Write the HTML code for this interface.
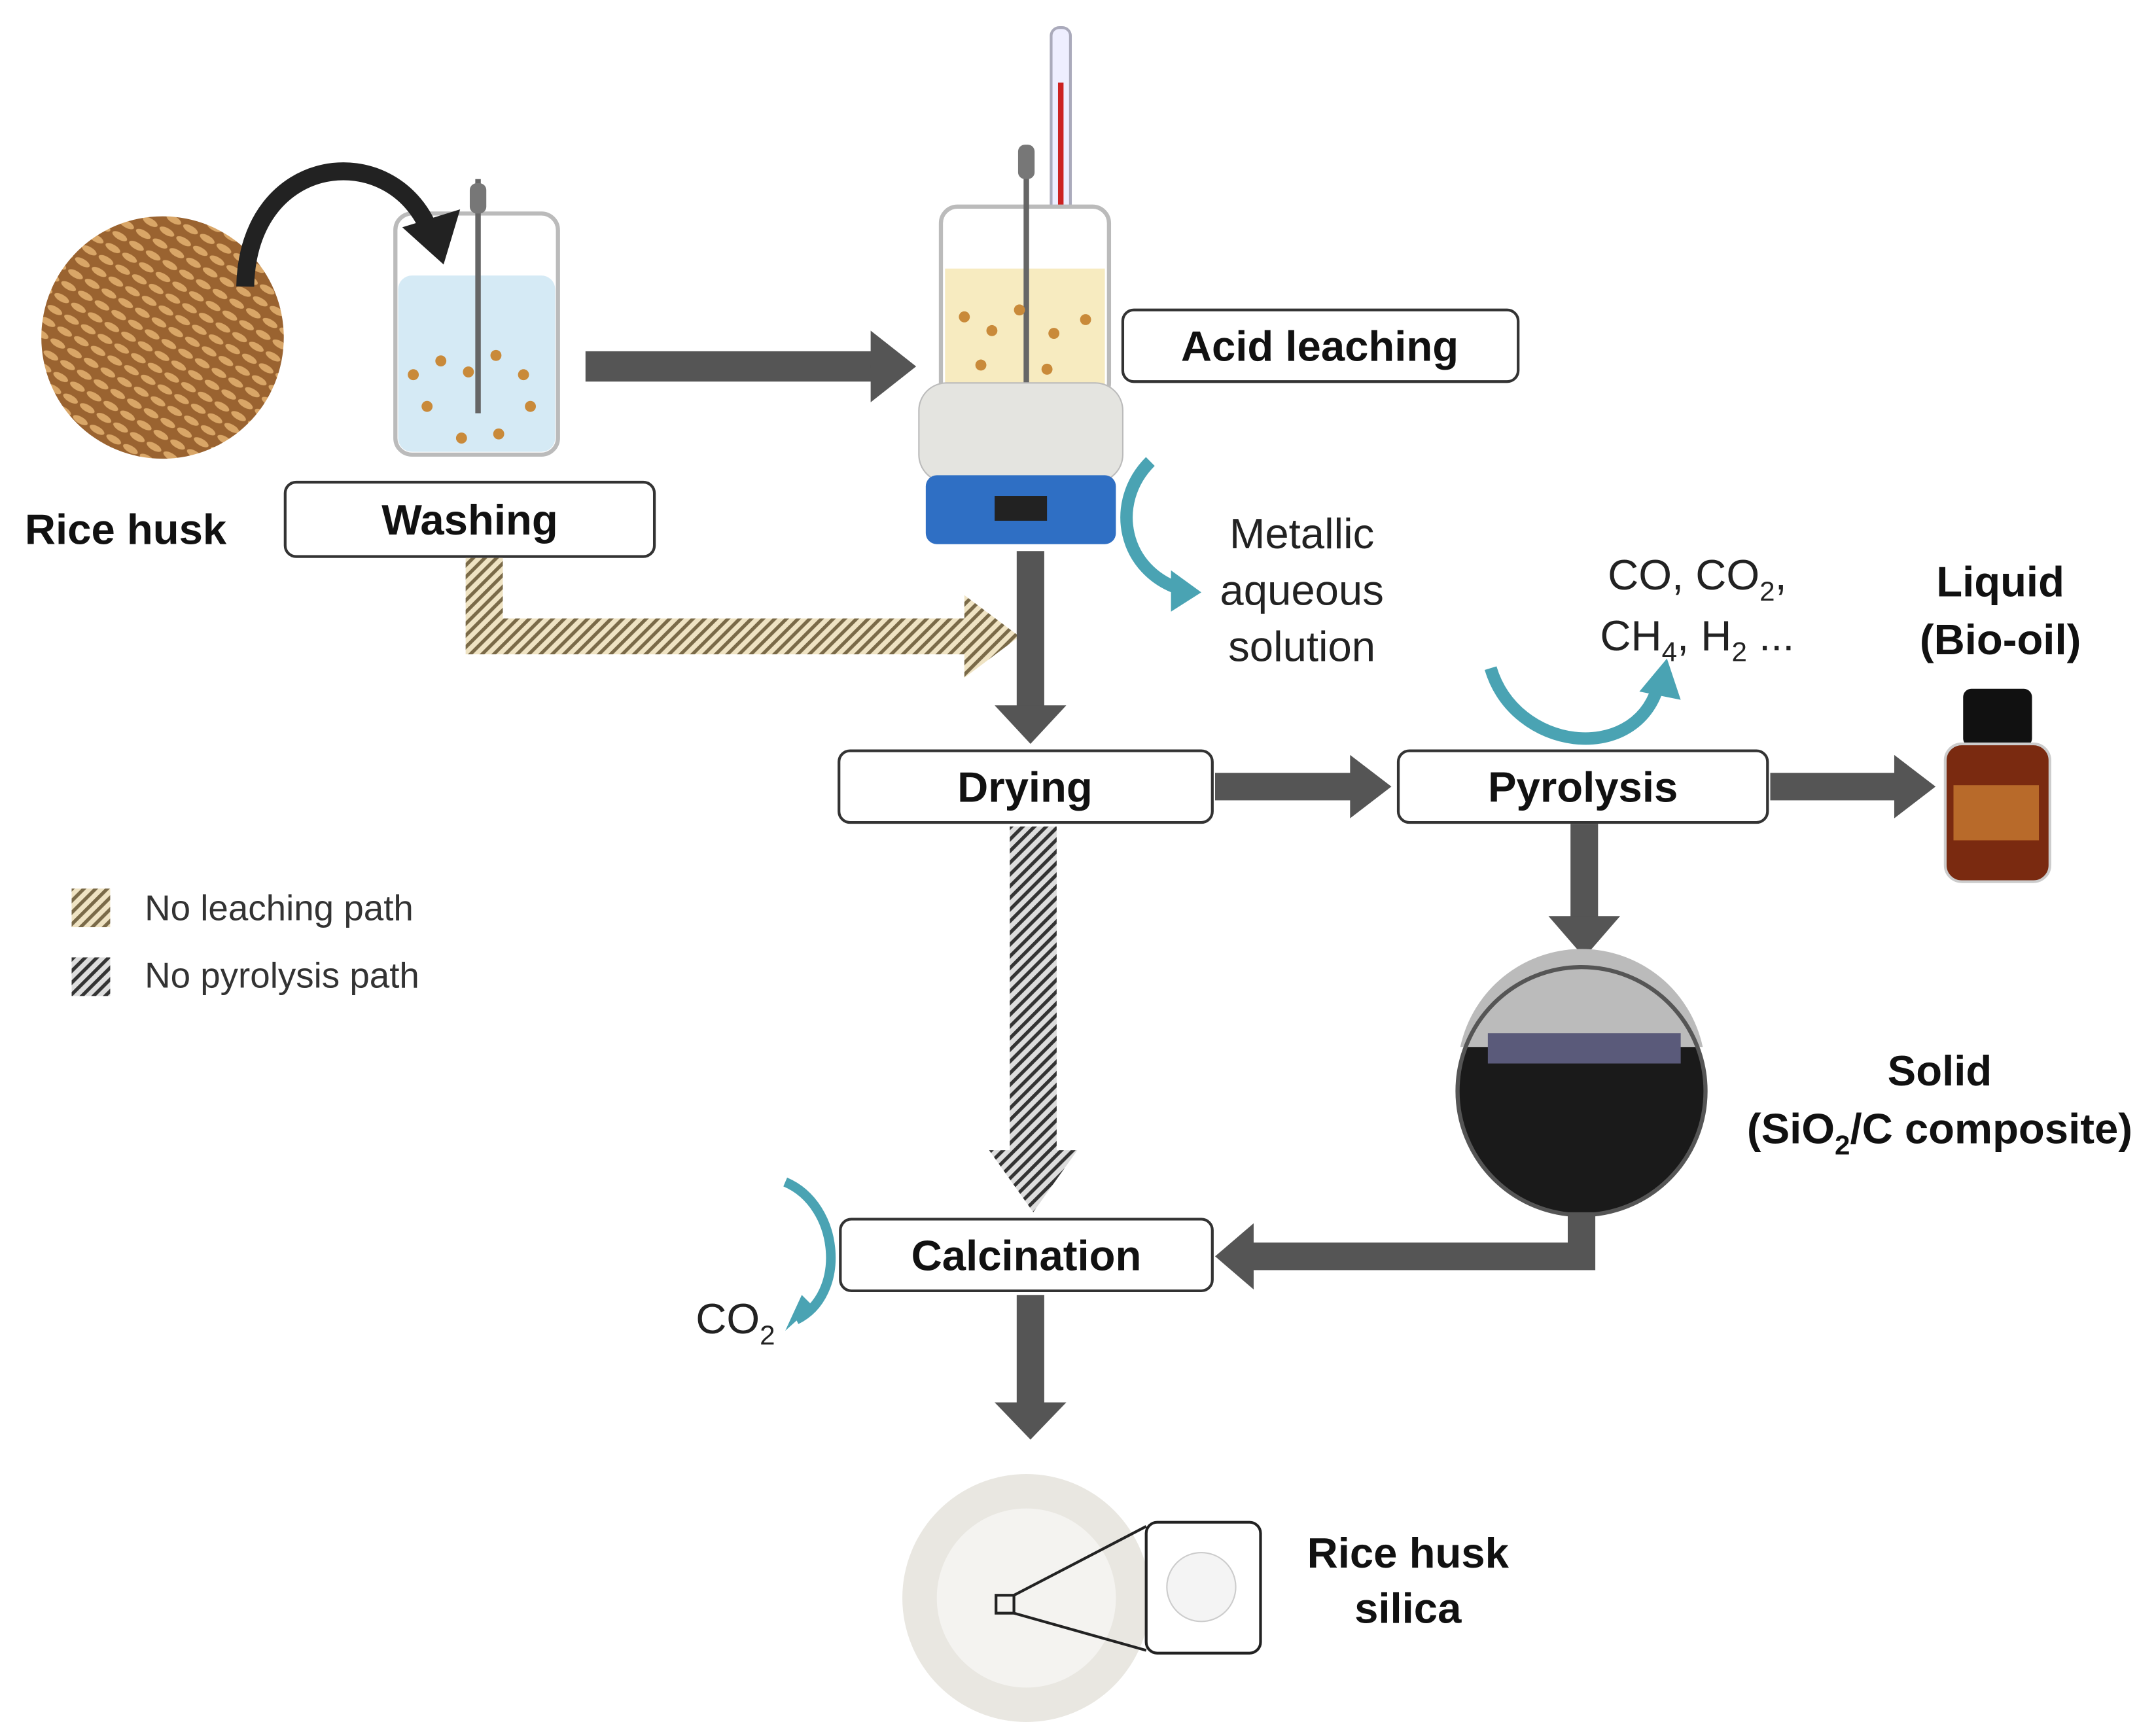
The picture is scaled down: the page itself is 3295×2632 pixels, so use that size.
<!DOCTYPE html>
<html><head><meta charset="utf-8"><style>
html,body{margin:0;padding:0;background:#fff;}
svg{display:block;font-family:"Liberation Sans",sans-serif;}
.b{font-weight:bold;font-size:31px;fill:#111;text-anchor:middle;}
.n{font-size:31px;fill:#222;text-anchor:middle;}
</style></head><body>
<svg width="3295" height="2632" viewBox="0 0 1565 1250" preserveAspectRatio="none" xmlns="http://www.w3.org/2000/svg">
<defs>
<pattern id="hy" width="6" height="6" patternUnits="userSpaceOnUse" patternTransform="rotate(45)">
<rect width="6" height="6" fill="#efe3c3"/><rect width="2.5" height="6" fill="#7a6a48"/></pattern>
<pattern id="hk" width="6" height="6" patternUnits="userSpaceOnUse" patternTransform="rotate(45)">
<rect width="6" height="6" fill="#ddd"/><rect width="2.5" height="6" fill="#333"/></pattern>
<pattern id="husk" width="14" height="10" patternUnits="userSpaceOnUse" patternTransform="rotate(30)">
<rect width="14" height="10" fill="#9a6330"/><ellipse cx="7" cy="5" rx="6" ry="2.5" fill="#d9a667"/></pattern>
</defs>
<!-- rice husk -->
<circle cx="118" cy="245" r="88" fill="url(#husk)"/>
<text x="18" y="395" class="b" style="text-anchor:start">Rice husk</text>
<!-- washing beaker -->
<rect x="287" y="155" width="118" height="175" rx="12" fill="#fff" stroke="#bbb" stroke-width="3"/>
<rect x="289" y="200" width="114" height="128" rx="10" fill="#d5eaf5"/>
<line x1="347" y1="130" x2="347" y2="300" stroke="#666" stroke-width="4"/>
<rect x="341" y="133" width="12" height="22" rx="5" fill="#777"/>
<g fill="#c98a3a"><circle cx="300" cy="272" r="4"/><circle cx="320" cy="262" r="4"/><circle cx="340" cy="270" r="4"/><circle cx="360" cy="258" r="4"/><circle cx="380" cy="272" r="4"/><circle cx="310" cy="295" r="4"/><circle cx="335" cy="318" r="4"/><circle cx="362" cy="315" r="4"/><circle cx="385" cy="295" r="4"/></g>
<path d="M178,208 C180,110 285,100 312,168" fill="none" stroke="#222" stroke-width="13"/>
<path d="M292,165 L322,192 L334,152z" fill="#222"/>
<rect x="207" y="350" width="268" height="54" rx="8" fill="#fff" stroke="#333" stroke-width="2"/>
<text x="341" y="388" class="b">Washing</text>
<!-- arrow to reactor -->
<rect x="425" y="255" width="210" height="22" fill="#555"/><path d="M632,240 L665,266 L632,292z" fill="#555"/>
<!-- reactor -->
<rect x="763" y="20" width="14" height="230" rx="6" fill="#eef" stroke="#aab" stroke-width="2"/>
<rect x="768" y="60" width="4" height="185" fill="#c22"/>
<rect x="683" y="150" width="122" height="140" rx="12" fill="#fff" stroke="#bbb" stroke-width="3"/>
<rect x="686" y="195" width="116" height="93" fill="#f7ebc0"/>
<line x1="745" y1="110" x2="745" y2="285" stroke="#666" stroke-width="4"/>
<rect x="739" y="105" width="12" height="25" rx="5" fill="#777"/>
<g fill="#c98a3a"><circle cx="700" cy="230" r="4"/><circle cx="720" cy="240" r="4"/><circle cx="740" cy="225" r="4"/><circle cx="765" cy="242" r="4"/><circle cx="788" cy="232" r="4"/><circle cx="712" cy="265" r="4"/><circle cx="760" cy="268" r="4"/></g>
<rect x="667" y="278" width="148" height="72" rx="20" fill="#e4e4e0" stroke="#bbb"/>
<rect x="672" y="345" width="138" height="50" rx="8" fill="#2f6fc4"/>
<rect x="722" y="360" width="38" height="18" fill="#222"/>
<rect x="815" y="225" width="287" height="52" rx="8" fill="#fff" stroke="#333" stroke-width="2"/>
<text x="958" y="262" class="b">Acid leaching</text>
<path d="M835,335 C805,365 815,415 858,428" fill="none" stroke="#4aa3b3" stroke-width="9"/>
<path d="M850,414 L872,430 L850,444z" fill="#4aa3b3"/>
<text x="945" y="398" class="n">Metallic</text><text x="945" y="439" class="n">aqueous</text><text x="945" y="480" class="n">solution</text>
<!-- hatched no-leaching -->
<path d="M338,405 L365,405 L365,449 L700,449 L700,432 L740,462 L700,492 L700,475 L338,475z" fill="url(#hy)"/>
<!-- down to drying -->
<rect x="738" y="400" width="20" height="115" fill="#555"/><path d="M722,512 L748,540 L774,512z" fill="#555"/>
<rect x="609" y="545" width="271" height="52" rx="8" fill="#fff" stroke="#333" stroke-width="2"/>
<text x="744" y="582" class="b">Drying</text>
<rect x="882" y="561" width="100" height="20" fill="#555"/><path d="M980,548 L1010,571 L980,594z" fill="#555"/>
<rect x="1015" y="545" width="268" height="52" rx="8" fill="#fff" stroke="#333" stroke-width="2"/>
<text x="1149" y="582" class="b">Pyrolysis</text>
<rect x="1285" y="561" width="92" height="20" fill="#555"/><path d="M1375,548 L1405,571 L1375,594z" fill="#555"/>
<!-- bottle -->
<rect x="1425" y="500" width="50" height="42" rx="6" fill="#111"/>
<rect x="1412" y="540" width="76" height="100" rx="12" fill="#7a2a10" stroke="#ccc" stroke-width="2"/>
<rect x="1418" y="570" width="62" height="40" fill="#b86a2a"/>
<text x="1452" y="433" class="b">Liquid</text><text x="1452" y="475" class="b">(Bio-oil)</text>
<text x="1232" y="428" class="n">CO, CO<tspan font-size="20" dy="8">2</tspan><tspan dy="-8">,</tspan></text>
<text x="1232" y="472" class="n">CH<tspan font-size="20" dy="8">4</tspan><tspan dy="-8">, H</tspan><tspan font-size="20" dy="8">2</tspan><tspan dy="-8"> ...</tspan></text>
<path d="M1082,485 C1100,545 1185,555 1203,500" fill="none" stroke="#4aa3b3" stroke-width="9"/>
<path d="M1190,502 L1210,478 L1220,508z" fill="#4aa3b3"/>
<!-- down to char -->
<rect x="1140" y="598" width="20" height="70" fill="#555"/><path d="M1124,665 L1150,695 L1176,665z" fill="#555"/>
<circle cx="1148" cy="792" r="90" fill="#1a1a1a"/>
<path d="M1060,760 A90,90 0 0 1 1236,760z" fill="#bbb"/>
<rect x="1080" y="750" width="140" height="22" fill="#5a5a7a"/>
<circle cx="1148" cy="792" r="90" fill="none" stroke="#555" stroke-width="3"/>
<text x="1408" y="788" class="b">Solid</text>
<text x="1408" y="830" class="b">(SiO<tspan font-size="20" dy="8">2</tspan><tspan dy="-8">/C composite)</tspan></text>
<path d="M1148,880 L1148,912 L905,912" fill="none" stroke="#555" stroke-width="20"/>
<path d="M910,888 L882,912 L910,936z" fill="#555"/>
<!-- hatched no-pyrolysis -->
<path d="M733,600 L767,600 L767,835 L782,835 L750,880 L718,835 L733,835z" fill="url(#hk)"/>
<rect x="610" y="885" width="270" height="52" rx="8" fill="#fff" stroke="#333" stroke-width="2"/>
<text x="745" y="922" class="b">Calcination</text>
<path d="M570,858 C610,875 615,940 578,958" fill="none" stroke="#4aa3b3" stroke-width="7"/>
<path d="M590,948 L570,966 L582,940z" fill="#4aa3b3"/>
<text x="505" y="968" class="n" style="text-anchor:start">CO<tspan font-size="20" dy="8">2</tspan></text>
<rect x="738" y="940" width="20" height="80" fill="#555"/><path d="M722,1018 L748,1045 L774,1018z" fill="#555"/>
<!-- crucible -->
<circle cx="745" cy="1160" r="90" fill="#e9e7e1"/>
<circle cx="745" cy="1160" r="65" fill="#f4f3f0"/>
<rect x="723" y="1158" width="13" height="13" fill="none" stroke="#222" stroke-width="2"/>
<path d="M736,1158 L832,1108 M736,1171 L832,1198" stroke="#222" stroke-width="2"/>
<rect x="832" y="1105" width="83" height="95" rx="8" fill="#fff" stroke="#222" stroke-width="2"/>
<circle cx="872" cy="1152" r="25" fill="#f4f4f4" stroke="#ccc"/>
<text x="1022" y="1138" class="b">Rice husk</text><text x="1022" y="1178" class="b">silica</text>
<!-- legend -->
<rect x="52" y="645" width="28" height="28" fill="url(#hy)"/>
<rect x="52" y="695" width="28" height="28" fill="url(#hk)"/>
<text x="105" y="668" font-size="26" fill="#333">No leaching path</text>
<text x="105" y="717" font-size="26" fill="#333">No pyrolysis path</text>
</svg>
</body></html>
